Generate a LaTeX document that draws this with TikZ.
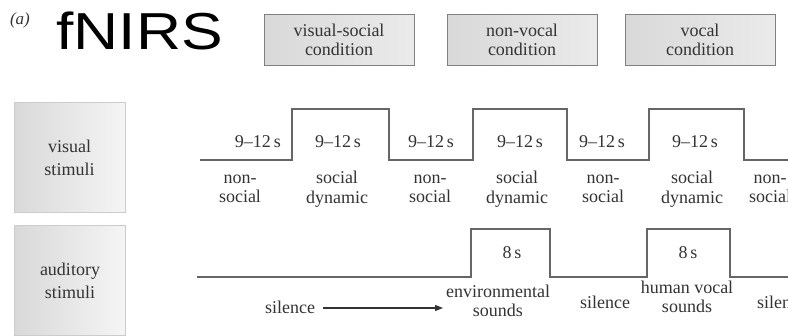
\documentclass[tikz,border=0pt]{standalone}
\usepackage{fontspec}
\setmainfont{Liberation Serif}
\newfontfamily\sansf{Liberation Sans}
\usepackage{graphicx}
\usepackage{tikz}
\usetikzlibrary{arrows.meta}
\tikzstyle{lbl}=[inner sep=0pt,text=black!80,font=\fontsize{18}{19.5}\selectfont,align=center]
\tikzstyle{condbox}=[lbl,draw=black!50,line width=1pt,left color=black!15,right color=black!8,minimum width=150pt,minimum height=51pt]
\tikzstyle{stimbox}=[lbl,font=\fontsize{18}{23}\selectfont,draw=black!20,line width=1pt,left color=black!15,right color=black!4,minimum width=111pt,minimum height=110pt]
\tikzstyle{wave}=[line width=2pt,black!60]

\begin{document}
\begin{tikzpicture}[x=1pt,y=-1pt]
    \clip (0,0) rectangle (788,336);
    \node [lbl,font=\fontsize{17}{17}\selectfont\itshape] (tag) at (20,20) {(a)};
    \node [inner sep=0pt,anchor=base,font=\sansf\fontsize{52}{52}\selectfont] (fnirs) at (139.5,50) {\scalebox{1.2}[1]{fNIRS}};
    \node [condbox] (vsoc) at (339,40) {visual-social\\condition};
    \node [condbox] (nvoc) at (522,40) {non-vocal\\condition};
    \node [condbox] (voc) at (700,40) {vocal\\condition};
    \node [stimbox] (visual) at (69.5,158) {visual\\stimuli};
    \node [stimbox] (audit) at (70,281) {auditory\\stimuli};
    % visual stimuli
    \draw [wave] (200,160) -- (292,160) -- (292,109) -- (389,109) -- (389,160) -- (473,160) -- (473,109)
        -- (567,109) -- (567,160) -- (649,160) -- (649,109) -- (744,109) -- (744,160) -- (800,160);
    \node [lbl] (t1) at (258,142) {9--12\,s};
    \node [lbl] (t2) at (338,142) {9--12\,s};
    \node [lbl] (t3) at (431,142) {9--12\,s};
    \node [lbl] (t4) at (520,142) {9--12\,s};
    \node [lbl] (t5) at (602,142) {9--12\,s};
    \node [lbl] (t6) at (695,142) {9--12\,s};
    \node [lbl] (v1) at (240,189) {non-\\social};
    \node [lbl] (v2) at (337,189) {social\\dynamic};
    \node [lbl] (v3) at (430,189) {non-\\social};
    \node [lbl] (v4) at (517,189) {social\\dynamic};
    \node [lbl] (v5) at (603,189) {non-\\social};
    \node [lbl] (v6) at (692,189) {social\\dynamic};
    \node [lbl] (v7) at (770,189) {non-\\social};
    % auditory stimuli
    \draw [wave] (197,277) -- (471,277) -- (471,229) -- (550,229) -- (550,277) -- (647,277) -- (647,229)
        -- (730,229) -- (730,277) -- (800,277);
    \node [lbl] (a1) at (512,253) {8\,s};
    \node [lbl] (a2) at (688,253) {8\,s};
    \node [lbl] (sil1) at (290,307) {silence};
    \node [lbl] (env) at (498,301) {environmental\\sounds};
    \node [lbl] (sil2) at (605,302) {silence};
    \node [lbl] (hum) at (687,297) {human vocal\\sounds};
    \node [lbl,anchor=west] (sil3) at (757,302) {silence};
    \coordinate (arrend) at (443,308);
    \draw [line width=1.3pt,black!80,shorten <=8pt,-{Triangle[length=8pt,width=6pt]}] (sil1.east |- arrend) -- (arrend);
\end{tikzpicture}
\end{document}
